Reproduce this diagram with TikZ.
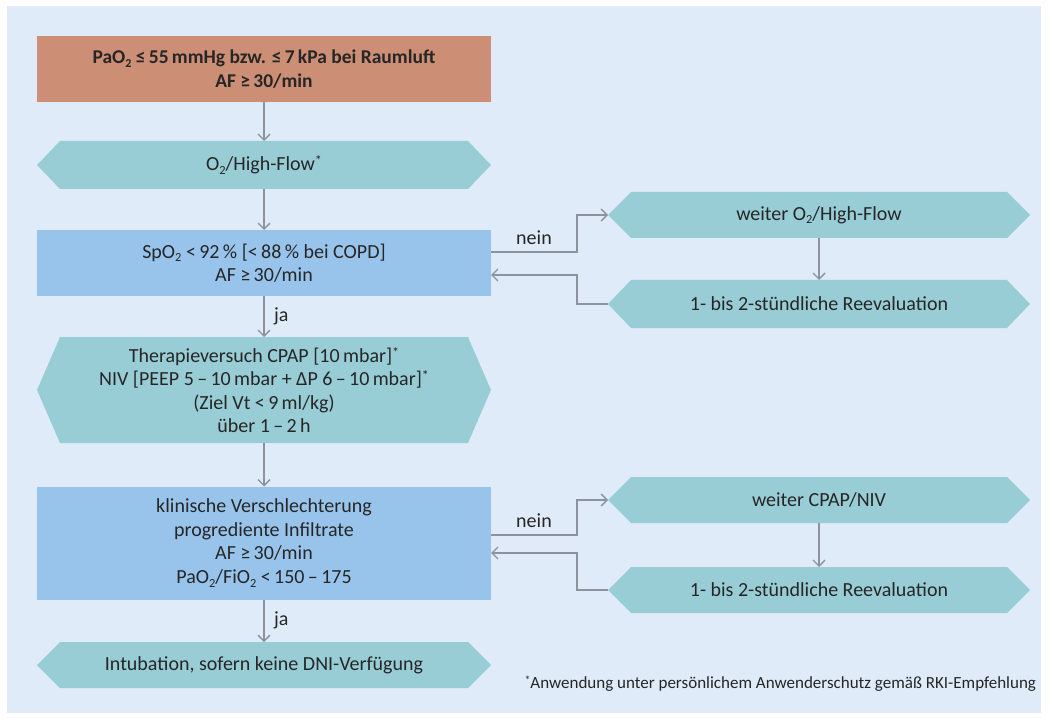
\documentclass[tikz,border=0pt]{standalone}
\usepackage{fontspec}
\usepackage{graphicx}
\setmainfont{Carlito}
\usetikzlibrary{arrows.meta}

\definecolor{bgblue}{HTML}{DFEBF8}
\definecolor{startfill}{HTML}{CC8E75}
\definecolor{hexfill}{HTML}{99CDD6}
\definecolor{askfill}{HTML}{98C4EC}
\definecolor{txtgray}{HTML}{262626}
\definecolor{arrgray}{HTML}{8C939C}

\newcommand{\sub}[1]{\raisebox{-0.4ex}{\scalebox{0.62}{#1}}}
\newcommand{\fnmark}{\raisebox{0.5ex}{\scalebox{0.7}{*}}}

\begin{document}
\begin{tikzpicture}[
  x=1pt,y=-1pt,
  every node/.style={font=\fontsize{20}{23.5}\selectfont,text=txtgray,
                     align=center,inner sep=0pt,outer sep=0pt},
  box/.style={rectangle,minimum width=454pt},
  hexbox/.style={rectangle,fill=bgblue,
    path picture={
      \fill[hexfill] (path picture bounding box.west)
        -- ([xshift=23pt]path picture bounding box.north west)
        -- ([xshift=-23pt]path picture bounding box.north east)
        -- (path picture bounding box.east)
        -- ([xshift=-23pt]path picture bounding box.south east)
        -- ([xshift=23pt]path picture bounding box.south west) -- cycle;}},
  arr/.style={-{Straight Barb[length=6pt,width=12pt]},line width=1.4pt,arrgray},
  lbl/.style={font=\fontsize{20}{22}\selectfont}
]
  \useasboundingbox (0,0) rectangle (1052,719);
  \fill[bgblue] (7,6) rectangle (1041,713);

  % left column
  \node[box,fill=startfill,minimum height=66pt,
        font=\fontsize{19.5}{23.5}\selectfont\bfseries] (start) at (264,69)
    {PaO\sub{2} ≤\,55\,mmHg bzw. ≤\,7\,kPa bei Raumluft\\AF ≥\,30/min};
  \node[hexbox,minimum width=454pt,minimum height=48pt] (oxy) at (264,165)
    {O\sub{2}/High-Flow\fnmark};
  \node[box,fill=askfill,minimum height=66pt] (spo) at (264,263)
    {SpO\sub{2} <\,92\,\% [<\,88\,\% bei COPD]\\AF ≥\,30/min};
  \node[hexbox,minimum width=454pt,minimum height=106pt] (cpap) at (264,390)
    {Therapieversuch CPAP [10\,mbar]\fnmark\\
     NIV [PEEP 5\,–\,10\,mbar + ΔP 6\,–\,10\,mbar]\fnmark\\
     (Ziel Vt <\,9\,ml/kg)\\über 1\,–\,2\,h};
  \node[box,fill=askfill,minimum height=113pt] (klin) at (264,543)
    {klinische Verschlechterung\\progrediente Infiltrate\\AF ≥\,30/min\\
     PaO\sub{2}/FiO\sub{2} <\,150\,–\,175};
  \node[hexbox,minimum width=454pt,minimum height=46pt] (intub) at (264,665)
    {Intubation, sofern keine DNI-Verfügung};

  % right column
  \node[hexbox,minimum width=422pt,minimum height=46pt] (weiter1) at (819,215)
    {weiter O\sub{2}/High-Flow};
  \node[hexbox,minimum width=422pt,minimum height=48pt] (reeval1) at (819,304)
    {1- bis 2-stündliche Reevaluation};
  \node[hexbox,minimum width=422pt,minimum height=46pt] (weiter2) at (819,500)
    {weiter CPAP/NIV};
  \node[hexbox,minimum width=422pt,minimum height=46pt] (reeval2) at (819,590)
    {1- bis 2-stündliche Reevaluation};

  \node[anchor=east,font=\fontsize{17}{20}\selectfont] (note) at (1036,684)
    {\fnmark Anwendung unter persönlichem Anwenderschutz gemäß RKI-Empfehlung};

  % connectors
  \draw[arr] (start) -- (oxy);
  \draw[arr] (oxy) -- (spo);
  \draw[arr] (spo) -- (cpap) node[midway,right=10pt,lbl]{ja};
  \draw[arr] (cpap) -- (klin);
  \draw[arr] (klin) -- (intub) node[midway,right=10pt,lbl]{ja};
  \draw[arr] (weiter1) -- (reeval1);
  \draw[arr] (weiter2) -- (reeval2);

  \draw[arr] ([yshift=11pt]spo.east) -- ++(86,0)
    node[midway,above=7pt,lbl]{nein} |- (weiter1.west);
  \draw[arr] (reeval1.west) -- ++(-31,0) |- ([yshift=-12pt]spo.east);
  \draw[arr] ([yshift=8pt]klin.east) -- ++(86,0)
    node[midway,above=7pt,lbl]{nein} |- (weiter2.west);
  \draw[arr] (reeval2.west) -- ++(-31,0) |- ([yshift=-10pt]klin.east);
\end{tikzpicture}
\end{document}
